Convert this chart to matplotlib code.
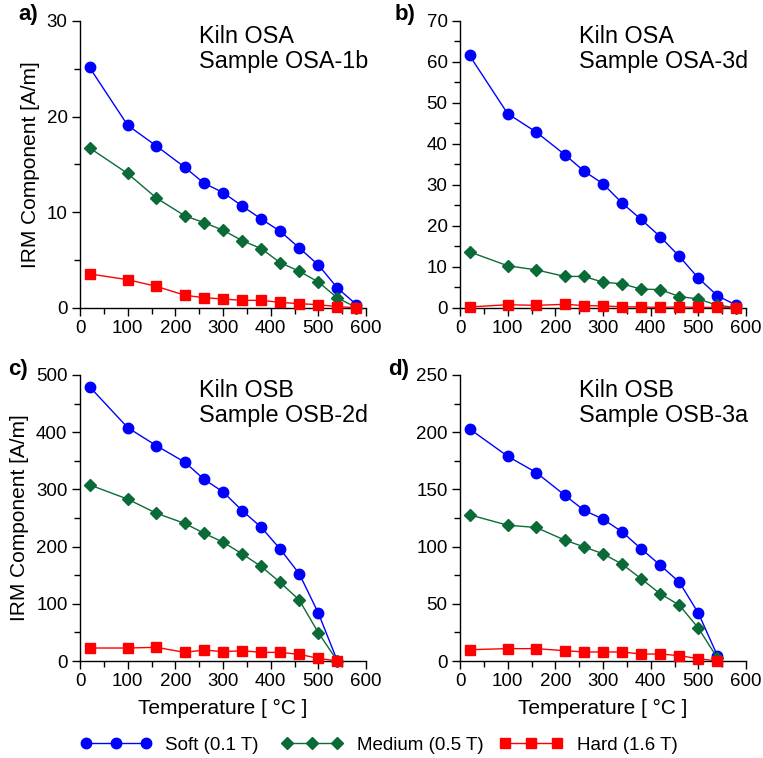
import matplotlib
matplotlib.use("Agg")
import matplotlib.pyplot as plt
from matplotlib.ticker import MultipleLocator
from matplotlib.lines import Line2D

plt.rcParams['font.family'] = ['Liberation Sans', 'DejaVu Sans']

temps_osa = [20, 100, 160, 220, 260, 300, 340, 380, 420, 460, 500, 540, 580]
temps_osb = [20, 100, 160, 220, 260, 300, 340, 380, 420, 460, 500, 540]

soft_a = [25.15, 19.1, 16.95, 14.7, 13.05, 12.07, 10.67, 9.31, 8.02, 6.28, 4.5, 2.09, 0.35]
med_a = [16.74, 14.06, 11.51, 9.63, 8.93, 8.13, 7.05, 6.21, 4.74, 3.84, 2.72, 1.05, 0.05]
hard_a = [3.56, 2.96, 2.27, 1.33, 1.08, 0.94, 0.80, 0.80, 0.59, 0.45, 0.35, 0.14, 0.03]

soft_b = [61.6, 47.4, 42.9, 37.4, 33.4, 30.3, 25.6, 21.6, 17.4, 12.6, 7.3, 3.0, 0.65]
med_b = [13.7, 10.3, 9.3, 7.7, 7.7, 6.3, 5.9, 4.6, 4.5, 2.8, 2.2, 0.65, 0.1]
hard_b = [0.25, 0.8, 0.65, 0.9, 0.6, 0.5, 0.3, 0.25, 0.15, 0.25, 0.15, 0.15, 0.1]

soft_c = [479.6, 408, 376.6, 347.5, 317.8, 295.7, 263.1, 234, 195.6, 152.5, 83.8, 0]
med_c = [308, 283, 258.4, 240.4, 223.5, 207.8, 187.4, 165.3, 137.4, 106.5, 49.5, 0]
hard_c = [22.7, 22.7, 23.9, 15.1, 19.2, 16.3, 18, 15.1, 15.1, 11.6, 4.7, 0]

soft_d = [202.9, 179, 164.7, 144.9, 131.8, 124, 112.9, 98.1, 83.8, 69, 41.9, 4.7]
med_d = [127.8, 118.7, 116.7, 105.6, 99.8, 93.7, 84.7, 71.9, 58.8, 48.9, 28.8, 2.6]
hard_d = [9.9, 10.8, 10.8, 9.0, 7.9, 7.9, 7.9, 6.1, 6.1, 4.7, 2.0, 0]

panel_labels = ['a)', 'b)', 'c)', 'd)']
kiln_texts = ['Kiln OSA\nSample OSA-1b', 'Kiln OSA\nSample OSA-3d',
              'Kiln OSB\nSample OSB-2d', 'Kiln OSB\nSample OSB-3a']
series_names = ['Soft (0.1 T)', 'Medium (0.5 T)', 'Hard (1.6 T)']
ylims = [30, 70, 500, 250]
ymajor = [10, 10, 100, 50]
yminor = [5, 5, 50, 25]

BLUE = '#0000FF'
GREEN = '#0B6B38'
RED = '#FF0000'

W, H = 763, 758
fig = plt.figure(figsize=(W / 100, H / 100), dpi=100)

def ax_rect(x0, x1, ytop, ybot):
    return [x0 / W, 1 - ybot / H, (x1 - x0) / W, (ybot - ytop) / H]

rects = [ax_rect(80, 366, 21, 308), ax_rect(460, 746, 21, 308),
         ax_rect(80, 366, 375, 661), ax_rect(460, 746, 375, 661)]
label_x = [-62, -65, -72, -72]

data = [(temps_osa, soft_a, med_a, hard_a), (temps_osa, soft_b, med_b, hard_b),
        (temps_osb, soft_c, med_c, hard_c), (temps_osb, soft_d, med_d, hard_d)]

for i, (r, (t, s, m, h)) in enumerate(zip(rects, data)):
    ax = fig.add_axes(r)
    ax.plot(t, s, color=BLUE, marker='o', ms=7.5, lw=1, clip_on=False, zorder=3)
    ax.plot(t, m, color=GREEN, marker='D', ms=6, lw=1, clip_on=False, zorder=3)
    ax.plot(t, h, color=RED, marker='s', ms=6.5, lw=1, clip_on=False, zorder=3)
    ax.set_xlim(0, 600)
    ax.set_ylim(0, ylims[i])
    ax.xaxis.set_major_locator(MultipleLocator(100))
    ax.xaxis.set_minor_locator(MultipleLocator(50))
    ax.yaxis.set_major_locator(MultipleLocator(ymajor[i]))
    ax.yaxis.set_minor_locator(MultipleLocator(yminor[i]))
    for sp in ['top', 'right']:
        ax.spines[sp].set_visible(False)
    for sp in ['left', 'bottom']:
        ax.spines[sp].set_linewidth(1.0)
    ax.tick_params(which='major', direction='out', length=6, width=1, labelsize=13.5, pad=3)
    ax.tick_params(which='minor', direction='out', length=4, width=1)
    ax.text(0.415, 0.985, kiln_texts[i], transform=ax.transAxes, fontsize=16.8,
            va='top', ha='left', linespacing=1.08)
    ax.text(label_x[i] / 286, 1 + 6 / 287, panel_labels[i], transform=ax.transAxes,
            fontsize=16, fontweight='bold', va='center', ha='left')
    if i in (0, 2):
        ax.set_ylabel('IRM Component [A/m]', fontsize=15, labelpad=5)
    if i in (2, 3):
        ax.set_xlabel('Temperature [ °C ]', fontsize=15, labelpad=6)

handles = [Line2D([], [], color=BLUE, marker='o', ms=7.5, lw=1),
           Line2D([], [], color=GREEN, marker='D', ms=6, lw=1),
           Line2D([], [], color=RED, marker='s', ms=6.5, lw=1)]
anchors = [80, 281, 499]
hlens = [3.8, 3.3, 3.4]
for hnd, name, ax0, hl in zip(handles, series_names, anchors, hlens):
    fig.legend([hnd], [name], loc='center left', bbox_to_anchor=(ax0 / W, 1 - 745 / H),
               frameon=False, numpoints=3, fontsize=13.5, handlelength=hl,
               handletextpad=0.75, borderpad=0, borderaxespad=0)

fig.savefig('out.png', dpi=100)
